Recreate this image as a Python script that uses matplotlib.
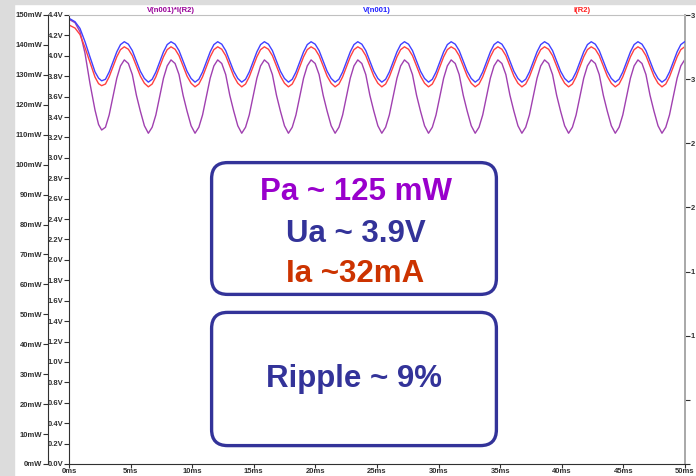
import matplotlib.pyplot as plt
from matplotlib.patches import FancyBboxPatch, Rectangle

plt.rcParams['font.family'] = ['Liberation Sans', 'DejaVu Sans']
plt.rcParams['font.weight'] = 'bold'

# --- data (time in ms) ---
t_ms = [
    0.00, 0.49, 0.89, 1.30, 1.70, 2.11, 2.40,
    2.65, 2.96, 3.26, 3.57, 3.88, 4.18, 4.49, 4.82, 5.14, 5.47, 5.79, 6.12,
    6.44, 6.75, 7.05, 7.36, 7.67, 7.97, 8.28, 8.61, 8.93, 9.26, 9.58, 9.91,
    10.23, 10.54, 10.84, 11.15, 11.46, 11.76, 12.07, 12.40, 12.72, 13.05, 13.37, 13.70,
    14.02, 14.33, 14.63, 14.94, 15.25, 15.55, 15.86, 16.19, 16.51, 16.84, 17.16, 17.49,
    17.81, 18.12, 18.42, 18.73, 19.04, 19.34, 19.65, 19.98, 20.30, 20.63, 20.95, 21.28,
    21.60, 21.91, 22.21, 22.52, 22.83, 23.13, 23.44, 23.77, 24.09, 24.42, 24.74, 25.07,
    25.39, 25.70, 26.00, 26.31, 26.62, 26.92, 27.23, 27.56, 27.88, 28.21, 28.53, 28.86,
    29.18, 29.49, 29.79, 30.10, 30.41, 30.71, 31.02, 31.35, 31.67, 32.00, 32.32, 32.65,
    32.97, 33.28, 33.58, 33.89, 34.20, 34.50, 34.81, 35.14, 35.46, 35.79, 36.11, 36.44,
    36.76, 37.07, 37.37, 37.68, 37.99, 38.29, 38.60, 38.93, 39.25, 39.58, 39.90, 40.23,
    40.55, 40.86, 41.16, 41.47, 41.78, 42.08, 42.39, 42.72, 43.04, 43.37, 43.69, 44.02,
    44.34, 44.65, 44.95, 45.26, 45.57, 45.87, 46.18, 46.51, 46.83, 47.16, 47.48, 47.81,
    48.13, 48.44, 48.74, 49.05, 49.36, 49.66, 49.97, 50.00,
]

# V(n001) in volts
v_n001 = [
    4.368, 4.334, 4.269, 4.138, 3.990, 3.843, 3.781,
    3.755, 3.770, 3.841, 3.940, 4.039, 4.110, 4.138, 4.114, 4.051, 3.948, 3.849, 3.778,
    3.742, 3.770, 3.841, 3.940, 4.039, 4.110, 4.138, 4.114, 4.051, 3.948, 3.849, 3.778,
    3.742, 3.770, 3.841, 3.940, 4.039, 4.110, 4.138, 4.114, 4.051, 3.948, 3.849, 3.778,
    3.742, 3.770, 3.841, 3.940, 4.039, 4.110, 4.138, 4.114, 4.051, 3.948, 3.849, 3.778,
    3.742, 3.770, 3.841, 3.940, 4.039, 4.110, 4.138, 4.114, 4.051, 3.948, 3.849, 3.778,
    3.742, 3.770, 3.841, 3.940, 4.039, 4.110, 4.138, 4.114, 4.051, 3.948, 3.849, 3.778,
    3.742, 3.770, 3.841, 3.940, 4.039, 4.110, 4.138, 4.114, 4.051, 3.948, 3.849, 3.778,
    3.742, 3.770, 3.841, 3.940, 4.039, 4.110, 4.138, 4.114, 4.051, 3.948, 3.849, 3.778,
    3.742, 3.770, 3.841, 3.940, 4.039, 4.110, 4.138, 4.114, 4.051, 3.948, 3.849, 3.778,
    3.742, 3.770, 3.841, 3.940, 4.039, 4.110, 4.138, 4.114, 4.051, 3.948, 3.849, 3.778,
    3.742, 3.770, 3.841, 3.940, 4.039, 4.110, 4.138, 4.114, 4.051, 3.948, 3.849, 3.778,
    3.742, 3.770, 3.841, 3.940, 4.039, 4.110, 4.138, 4.114, 4.051, 3.948, 3.849, 3.778,
    3.742, 3.770, 3.841, 3.940, 4.039, 4.110, 4.138, 4.138,
]

# I(R2) in mA
i_r2 = [
    34.22, 33.98, 33.48, 32.46, 31.33, 30.16, 29.65,
    29.49, 29.62, 30.18, 30.96, 31.74, 32.30, 32.52, 32.33, 31.83, 31.02, 30.24, 29.68,
    29.40, 29.62, 30.18, 30.96, 31.74, 32.30, 32.52, 32.33, 31.83, 31.02, 30.24, 29.68,
    29.40, 29.62, 30.18, 30.96, 31.74, 32.30, 32.52, 32.33, 31.83, 31.02, 30.24, 29.68,
    29.40, 29.62, 30.18, 30.96, 31.74, 32.30, 32.52, 32.33, 31.83, 31.02, 30.24, 29.68,
    29.40, 29.62, 30.18, 30.96, 31.74, 32.30, 32.52, 32.33, 31.83, 31.02, 30.24, 29.68,
    29.40, 29.62, 30.18, 30.96, 31.74, 32.30, 32.52, 32.33, 31.83, 31.02, 30.24, 29.68,
    29.40, 29.62, 30.18, 30.96, 31.74, 32.30, 32.52, 32.33, 31.83, 31.02, 30.24, 29.68,
    29.40, 29.62, 30.18, 30.96, 31.74, 32.30, 32.52, 32.33, 31.83, 31.02, 30.24, 29.68,
    29.40, 29.62, 30.18, 30.96, 31.74, 32.30, 32.52, 32.33, 31.83, 31.02, 30.24, 29.68,
    29.40, 29.62, 30.18, 30.96, 31.74, 32.30, 32.52, 32.33, 31.83, 31.02, 30.24, 29.68,
    29.40, 29.62, 30.18, 30.96, 31.74, 32.30, 32.52, 32.33, 31.83, 31.02, 30.24, 29.68,
    29.40, 29.62, 30.18, 30.96, 31.74, 32.30, 32.52, 32.33, 31.83, 31.02, 30.24, 29.68,
    29.40, 29.62, 30.18, 30.96, 31.74, 32.30, 32.52, 32.52,
]

# V(n001)*I(R2) in mW
p_mw = [
    148.56, 147.43, 144.42, 137.20, 127.18, 118.26, 113.41,
    111.58, 112.5, 116.6, 122.8, 128.9, 133.0, 135.0, 133.8, 130.1, 123.2, 117.9, 113.0,
    110.5, 112.5, 116.6, 122.8, 128.9, 133.0, 135.0, 133.8, 130.1, 123.2, 117.9, 113.0,
    110.5, 112.5, 116.6, 122.8, 128.9, 133.0, 135.0, 133.8, 130.1, 123.2, 117.9, 113.0,
    110.5, 112.5, 116.6, 122.8, 128.9, 133.0, 135.0, 133.8, 130.1, 123.2, 117.9, 113.0,
    110.5, 112.5, 116.6, 122.8, 128.9, 133.0, 135.0, 133.8, 130.1, 123.2, 117.9, 113.0,
    110.5, 112.5, 116.6, 122.8, 128.9, 133.0, 135.0, 133.8, 130.1, 123.2, 117.9, 113.0,
    110.5, 112.5, 116.6, 122.8, 128.9, 133.0, 135.0, 133.8, 130.1, 123.2, 117.9, 113.0,
    110.5, 112.5, 116.6, 122.8, 128.9, 133.0, 135.0, 133.8, 130.1, 123.2, 117.9, 113.0,
    110.5, 112.5, 116.6, 122.8, 128.9, 133.0, 135.0, 133.8, 130.1, 123.2, 117.9, 113.0,
    110.5, 112.5, 116.6, 122.8, 128.9, 133.0, 135.0, 133.8, 130.1, 123.2, 117.9, 113.0,
    110.5, 112.5, 116.6, 122.8, 128.9, 133.0, 135.0, 133.8, 130.1, 123.2, 117.9, 113.0,
    110.5, 112.5, 116.6, 122.8, 128.9, 133.0, 135.0, 133.8, 130.1, 123.2, 117.9, 113.0,
    110.5, 112.5, 116.6, 122.8, 128.9, 133.0, 135.0, 135.0,
]

# --- axis ticks / labels ---
x_ticks = [0, 5, 10, 15, 20, 25, 30, 35, 40, 45, 50]
x_labels = ['0ms', '5ms', '10ms', '15ms', '20ms', '25ms', '30ms', '35ms', '40ms', '45ms', '50ms']
v_ticks = [0.0, 0.2, 0.4, 0.6, 0.8, 1.0, 1.2, 1.4, 1.6, 1.8, 2.0, 2.2,
           2.4, 2.6, 2.8, 3.0, 3.2, 3.4, 3.6, 3.8, 4.0, 4.2, 4.4]
v_labels = ['%.1fV' % v for v in v_ticks]
p_ticks = [0, 10, 20, 30, 40, 50, 60, 70, 80, 90, 100, 110, 120, 130, 140, 150]
p_labels = ['%dmW' % p for p in p_ticks]
i_ticks = [0, 5, 10, 15, 20, 25, 30, 35]
# the mA labels are cut by the window edge: only their first digit shows
i_labels = ['', '', '1', '1', '2', '2', '3', '3']

trace_names = ['V(n001)*I(R2)', 'V(n001)', 'I(R2)']
notes_top = ['Pa ~ 125 mW', 'Ua ~ 3.9V', 'Ia ~32mA']
note_bottom = 'Ripple ~ 9%'

# --- figure in pixel terms ---
W, H = 696, 476
fig = plt.figure(figsize=(W / 100, H / 100), dpi=100, facecolor='white')


def fx(px):
    return px / W


def fy(py):
    return 1 - py / H


# window chrome (gray strips)
fig.add_artist(Rectangle((0, 0), fx(14), 1, transform=fig.transFigure,
                         color='#dcdcdc', zorder=-5))
fig.add_artist(Rectangle((0, fy(4)), 1, 4 / H, transform=fig.transFigure,
                         color='#dcdcdc', zorder=-5))

L, R, T, B = 69, 685, 15, 464
ax = fig.add_axes([fx(L), fy(B), fx(R) - fx(L), fy(T) - fy(B)])
ax_p = ax.twinx()
ax_i = ax.twinx()
ax.set_zorder(3)
ax.patch.set_visible(False)

dark = '#303030'
tick_kw = dict(labelsize=5.5, colors=dark, width=0.8, direction='out')

# main axis: volts
ax.plot(t_ms, v_n001, color='#4040ff', lw=1.0)
ax.set_xlim(0, 50)
ax.set_ylim(0, 4.4)
ax.set_xticks(x_ticks)
ax.set_xticklabels(x_labels)
ax.set_yticks(v_ticks)
ax.set_yticklabels(v_labels)
ax.tick_params(axis='x', pad=0.0, length=3.0, **tick_kw)
ax.tick_params(axis='y', pad=0.6, length=3.3, **tick_kw)
ax.spines['right'].set_visible(False)
ax.spines['top'].set_color('#c0c0c0')
ax.spines['top'].set_linewidth(0.8)
ax.spines['left'].set_color(dark)
ax.spines['bottom'].set_color(dark)

# power axis, moved to the left
ax_p.plot(t_ms, p_mw, color='#a040b0', lw=1.0)
ax_p.set_ylim(0, 150)
ax_p.yaxis.set_ticks_position('left')
ax_p.spines['left'].set_position(('axes', (47.7 - L) / (R - L)))
for s in ['top', 'right', 'bottom']:
    ax_p.spines[s].set_visible(False)
ax_p.spines['left'].set_visible(True)
ax_p.spines['left'].set_color(dark)
ax_p.set_yticks(p_ticks)
ax_p.set_yticklabels(p_labels)
ax_p.tick_params(axis='y', pad=0.6, length=3.3, **tick_kw)

# current axis on the right
ax_i.plot(t_ms, i_r2, color='#ff4040', lw=1.0)
ax_i.set_ylim(0, 35)
for s in ['top', 'left', 'bottom']:
    ax_i.spines[s].set_visible(False)
ax_i.spines['right'].set_color('#a8a8a8')
ax_i.spines['right'].set_linewidth(1.4)
ax_i.set_yticks(i_ticks)
ax_i.set_yticklabels(i_labels)
ax_i.tick_params(axis='y', pad=0.6, length=3.3, **tick_kw)

# trace names above the plot
name_cols = ['#990099', '#2020ff', '#ff2020']
name_x = [171, 377, 582]
for name, c, x in zip(trace_names, name_cols, name_x):
    fig.text(fx(x), fy(10), name, ha='center', va='center', fontsize=5.5,
             color=c, fontweight='bold')

# annotation boxes
navy = '#333399'
for top, bot in [(162.6, 294.4), (312.4, 445.6)]:
    box = FancyBboxPatch((fx(211.6), fy(bot)), fx(496.4) - fx(211.6), (bot - top) / H,
                         boxstyle='round,pad=0,rounding_size=%f' % (16 / W),
                         mutation_aspect=W / H, transform=fig.transFigure,
                         fc='white', ec=navy, lw=2.4, zorder=10)
    fig.add_artist(box)

note_cols = ['#9900cc', navy, '#cc3300']
note_base = [200, 241.7, 281.7]
for txt, c, yb in zip(notes_top, note_cols, note_base):
    fig.text(fx(355.5), fy(yb), txt, ha='center', va='baseline', fontsize=22.5,
             color=c, fontweight='bold', zorder=11)
fig.text(fx(354), fy(386.7), note_bottom, ha='center', va='baseline', fontsize=22.5,
         color=navy, fontweight='bold', zorder=11)

fig.savefig('out.png', dpi=100)
